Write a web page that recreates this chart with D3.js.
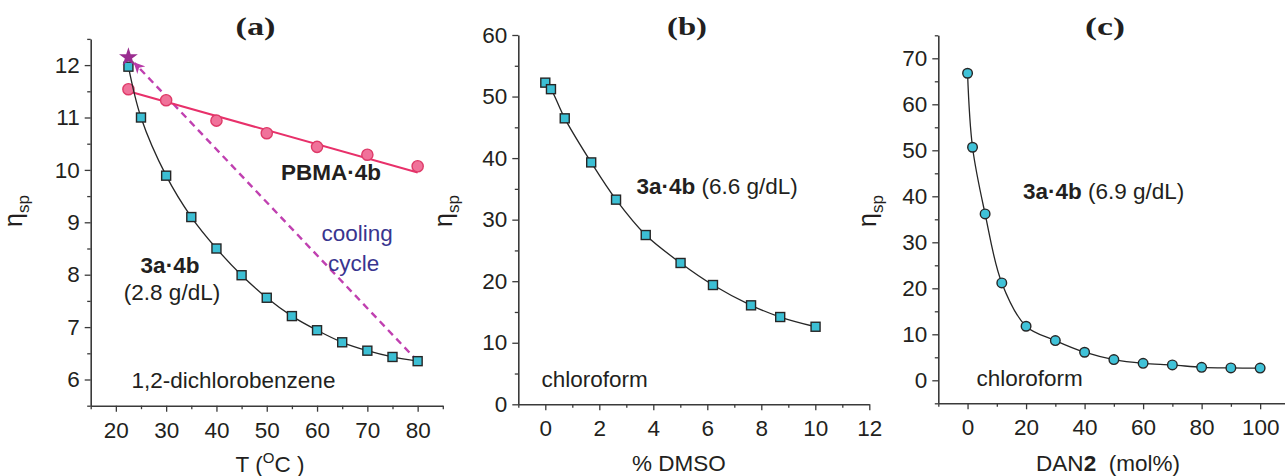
<!DOCTYPE html>
<html>
<head>
<meta charset="utf-8">
<script src="https://cdn.jsdelivr.net/npm/d3@7"></script>
<style>
  body { margin: 0; background: #fff; }
  svg { display: block; font-family: "Liberation Sans", Arial, sans-serif; }
</style>
</head>
<body>
<svg id="chart" width="1285" height="476"></svg>
<script>
// ---- Panel (a): specific viscosity vs temperature (1,2-dichlorobenzene) ----
const tempA = [22.5, 25, 30, 35, 40, 45, 50, 55, 60, 65, 70, 75, 80];
const etaA = [11.97, 11.0, 9.89, 9.1, 8.5, 7.99, 7.56, 7.21, 6.94, 6.71, 6.55, 6.43, 6.35];
const tempPBMA = [22.5, 30, 40, 50, 60, 70, 80];
const etaPBMA = [11.54, 11.33, 10.94, 10.70, 10.44, 10.29, 10.07];
const fitPBMAT = [22.5, 80];
const fitPBMAEta = [11.50, 9.95];
const starT = [22.5];
const starEta = [12.15];
const coolT = [80, 23.7];
const coolEta = [6.35, 12.04];
const xTicksA = [20, 30, 40, 50, 60, 70, 80];
const xMinorA = [15, 25, 35, 45, 55, 65, 75, 85];
const yTicksA = [6, 7, 8, 9, 10, 11, 12];
const yMinorA = [5.5, 6.5, 7.5, 8.5, 9.5, 10.5, 11.5, 12.5];

// ---- Panel (b): specific viscosity vs DMSO content (chloroform) ----
const dmso = [0, 0.21, 0.72, 1.70, 2.62, 3.72, 5.01, 6.21, 7.62, 8.70, 10.01];
const etaB = [52.26, 51.2, 46.46, 39.3, 33.25, 27.5, 22.96, 19.38, 16.08, 14.18, 12.6];
const xTicksB = [0, 2, 4, 6, 8, 10, 12];
const xMinorB = [-1, 1, 3, 5, 7, 9, 11];
const yTicksB = [0, 10, 20, 30, 40, 50, 60];
const yMinorB = [5, 15, 25, 35, 45, 55];

// ---- Panel (c): specific viscosity vs DAN2 content (chloroform) ----
const dan = [0, 1.7, 6.0, 11.7, 20, 30, 40, 50, 60, 70, 80, 90, 100];
const etaC = [66.75, 50.66, 36.17, 21.17, 11.75, 8.63, 6.1, 4.5, 3.7, 3.34, 2.83, 2.69, 2.65];
const xTicksC = [0, 20, 40, 60, 80, 100];
const xMinorC = [-10, 10, 30, 50, 70, 90, 110];
const yTicksC = [0, 10, 20, 30, 40, 50, 60, 70];
const yMinorC = [-5, 5, 15, 25, 35, 45, 55, 65, 75];

const svg = d3.select("#chart");
svg.append("rect").attr("width", 1285).attr("height", 476).attr("fill", "#fff");

const SANS = "'Liberation Sans', Arial, sans-serif";
const SERIF = "'Liberation Serif', 'Times New Roman', serif";
const INK = "#231f20";
const AXIS = "#3a3a3a";
const CYAN = "#3cbfd4";
const EDGE = "#262626";
const FS = 22.5;

function label(g, x, y, size) {
  return g.append("text").attr("x", x).attr("y", y)
    .style("font-family", SANS).style("font-size", size + "px").style("fill", INK);
}

function drawAxes(g, x, y, o) {
  const bottom = y.range()[0], left = x.range()[0];
  // minor ticks
  g.append("g").attr("transform", `translate(0,${bottom})`)
    .call(d3.axisBottom(x).tickValues(o.xMinor).tickSize(3.5).tickFormat(""))
    .call(s => s.select(".domain").remove());
  g.append("g").attr("transform", `translate(${left},0)`)
    .call(d3.axisLeft(y).tickValues(o.yMinor).tickSize(3.5).tickFormat(""))
    .call(s => s.select(".domain").remove());
  // major ticks with labels
  const fmt = d3.format("d");
  const ax = g.append("g").attr("transform", `translate(0,${bottom})`)
    .call(d3.axisBottom(x).tickValues(o.xTicks).tickFormat(fmt)
      .tickSize(6).tickPadding(10).tickSizeOuter(0));
  const ay = g.append("g").attr("transform", `translate(${left},0)`)
    .call(d3.axisLeft(y).tickValues(o.yTicks).tickFormat(fmt)
      .tickSize(6).tickPadding(5).tickSizeOuter(0));
  [ax, ay].forEach(a => {
    a.select(".domain").attr("stroke", AXIS).attr("stroke-width", 1.6);
    a.selectAll("text").style("font-size", FS + "px").style("fill", INK)
      .style("font-family", SANS);
  });
  g.selectAll(".tick line").attr("stroke", AXIS).attr("stroke-width", 1.3);
}

function yLabel(g, cx, cy) {
  const t = g.append("text").attr("transform", `translate(${cx},${cy}) rotate(-90)`)
    .attr("text-anchor", "middle").style("font-family", SANS).style("fill", INK);
  t.append("tspan").style("font-size", "25px").text("η");
  t.append("tspan").style("font-size", "17px").attr("dy", 7).text("sp");
}

function panelTitle(g, cx, text) {
  g.append("text").attr("x", cx).attr("y", 34.5).attr("text-anchor", "middle")
    .style("font-family", SERIF).style("font-weight", "bold").style("font-size", "25px")
    .style("fill", INK)
    .attr("textLength", 40).attr("lengthAdjust", "spacingAndGlyphs")
    .text(text);
}

// ===================== Panel (a) =====================
{
  const g = svg.append("g");
  const x = d3.scaleLinear().domain([15, 85]).range([90.7, 442.8]);
  const y = d3.scaleLinear().domain([5.5, 12.5]).range([405.7, 38.9]);
  drawAxes(g, x, y, { xTicks: xTicksA, xMinor: xMinorA, yTicks: yTicksA, yMinor: yMinorA });

  // dashed cooling-cycle arrow
  const defs = svg.append("defs");
  defs.append("marker").attr("id", "arrowCool")
    .attr("viewBox", "0 0 10 10").attr("refX", 9).attr("refY", 5)
    .attr("markerWidth", 4.6).attr("markerHeight", 4.6).attr("orient", "auto")
    .attr("markerUnits", "strokeWidth")
    .append("path").attr("d", "M0,0 L10,5 L0,10 L3,5 Z").attr("fill", "#b83aa8");
  const coolPts = coolT.map((t, i) => [x(t), y(coolEta[i])]);
  g.append("path").attr("d", d3.line()(coolPts))
    .attr("fill", "none").attr("stroke", "#c040b0").attr("stroke-width", 2.4)
    .attr("stroke-dasharray", "7,5").attr("marker-end", "url(#arrowCool)");

  // PBMA·4b linear fit and points
  g.append("path").attr("d", d3.line()(fitPBMAT.map((t, i) => [x(t), y(fitPBMAEta[i])])))
    .attr("fill", "none").attr("stroke", "#e8306a").attr("stroke-width", 2);
  g.selectAll(".pbma").data(tempPBMA).join("circle")
    .attr("cx", d => x(d)).attr("cy", (d, i) => y(etaPBMA[i])).attr("r", 5.6)
    .attr("fill", "#f0729a").attr("stroke", "#de3a68").attr("stroke-width", 1.4);

  // 3a·4b curve and squares
  g.append("path")
    .attr("d", d3.line().curve(d3.curveCatmullRom)(tempA.map((t, i) => [x(t), y(etaA[i])])))
    .attr("fill", "none").attr("stroke", "#262626").attr("stroke-width", 1.3);
  g.selectAll(".sqA").data(tempA).join("rect")
    .attr("x", d => x(d) - 4.5).attr("y", (d, i) => y(etaA[i]) - 4.5)
    .attr("width", 9).attr("height", 9)
    .attr("fill", CYAN).attr("stroke", EDGE).attr("stroke-width", 1.4);

  // star: value after the cooling cycle
  g.selectAll(".star").data(starT).join("path")
    .attr("transform", (d, i) => `translate(${x(d)},${y(starEta[i])})`)
    .attr("d", d3.symbol(d3.symbolStar, 110)())
    .attr("fill", "#9a2d90");

  panelTitle(g, 255.5, "(a)");
  yLabel(g, 22, 211);

  label(g, 270, 472, FS).attr("text-anchor", "middle")
    .call(t => {
      t.append("tspan").text("T (");
      t.append("tspan").style("font-size", "15px").attr("dy", -9).text("O");
      t.append("tspan").attr("dy", 9).text("C )");
    });

  label(g, 281, 180, FS).style("font-weight", "bold").text("PBMA·4b");
  label(g, 321.5, 240.5, FS).style("fill", "#39358f").text("cooling");
  label(g, 328, 270.5, FS).style("fill", "#39358f").text("cycle");
  label(g, 170, 273, FS).attr("text-anchor", "middle").style("font-weight", "bold").text("3a·4b");
  label(g, 172, 300, FS).attr("text-anchor", "middle").text("(2.8 g/dL)");
  label(g, 131.5, 388, FS).text("1,2-dichlorobenzene");
}

// ===================== Panel (b) =====================
{
  const g = svg.append("g");
  const x = d3.scaleLinear().domain([-1, 12]).range([518.3, 869.3]);
  const y = d3.scaleLinear().domain([0, 60]).range([404.3, 35]);
  drawAxes(g, x, y, { xTicks: xTicksB, xMinor: xMinorB, yTicks: yTicksB, yMinor: yMinorB });

  g.append("path")
    .attr("d", d3.line().curve(d3.curveCatmullRom)(dmso.map((d, i) => [x(d), y(etaB[i])])))
    .attr("fill", "none").attr("stroke", "#262626").attr("stroke-width", 1.3);
  g.selectAll(".sqB").data(dmso).join("rect")
    .attr("x", d => x(d) - 4.5).attr("y", (d, i) => y(etaB[i]) - 4.5)
    .attr("width", 9).attr("height", 9)
    .attr("fill", CYAN).attr("stroke", EDGE).attr("stroke-width", 1.4);

  panelTitle(g, 687, "(b)");
  yLabel(g, 452, 211);
  label(g, 679, 471, FS).attr("text-anchor", "middle").text("% DMSO");

  label(g, 636.5, 193.5, FS).call(t => {
    t.append("tspan").style("font-weight", "bold").text("3a·4b");
    t.append("tspan").text(" (6.6 g/dL)");
  });
  label(g, 541.5, 386.5, FS).text("chloroform");
}

// ===================== Panel (c) =====================
{
  const g = svg.append("g");
  const x = d3.scaleLinear().domain([-10, 110]).range([938.3, 1289.4]);
  const y = d3.scaleLinear().domain([-5, 75]).range([403.3, 35.3]);
  drawAxes(g, x, y, { xTicks: xTicksC, xMinor: xMinorC, yTicks: yTicksC, yMinor: yMinorC });

  g.append("path")
    .attr("d", d3.line().curve(d3.curveCatmullRom)(dan.map((d, i) => [x(d), y(etaC[i])])))
    .attr("fill", "none").attr("stroke", "#262626").attr("stroke-width", 1.3);
  g.selectAll(".cirC").data(dan).join("circle")
    .attr("cx", d => x(d)).attr("cy", (d, i) => y(etaC[i])).attr("r", 4.8)
    .attr("fill", "#40c2d8").attr("stroke", EDGE).attr("stroke-width", 1.4);

  panelTitle(g, 1105, "(c)");
  yLabel(g, 876, 211);
  label(g, 1108, 471, FS).attr("text-anchor", "middle").call(t => {
    t.append("tspan").text("DAN");
    t.append("tspan").style("font-weight", "bold").text("2");
    t.append("tspan").text("\u00a0 (mol%)");
  });

  label(g, 1023, 199, FS).call(t => {
    t.append("tspan").style("font-weight", "bold").text("3a·4b");
    t.append("tspan").text(" (6.9 g/dL)");
  });
  label(g, 976.5, 386, FS).text("chloroform");
}
</script>
</body>
</html>
